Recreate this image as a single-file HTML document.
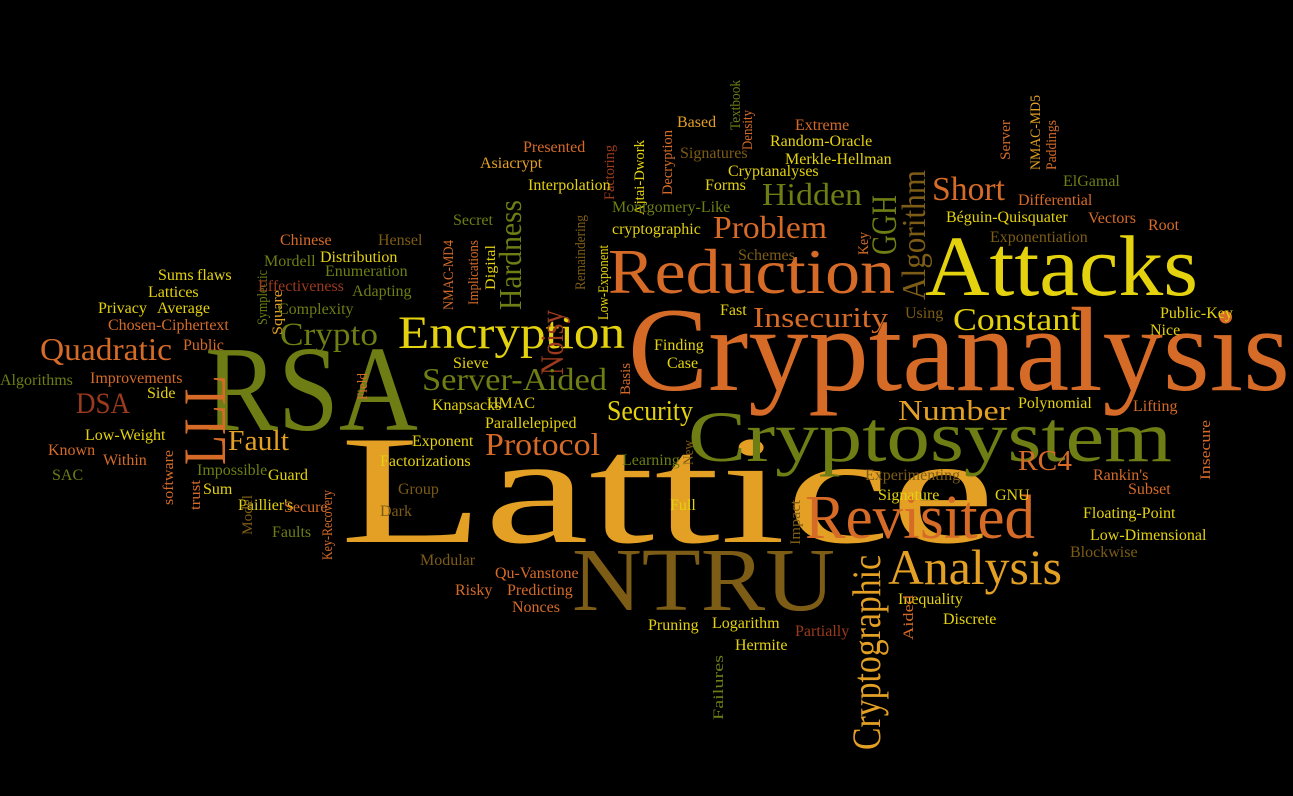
<!DOCTYPE html>
<html><head><meta charset="utf-8"><style>
html,body{margin:0;padding:0;background:#000;width:1293px;height:796px;overflow:hidden}
svg text{font-family:"Liberation Serif",serif}
</style></head><body>
<svg id="cloud" width="1293" height="796" viewBox="0 0 1293 796" xmlns="http://www.w3.org/2000/svg">
<rect width="1293" height="796" fill="#000"/>
</svg>
<script>
const O='#d66b28',Y='#e4d20e',G='#6e7d14',B='#7d5c16',R='#9c3a1e',A='#e3a024';
// [text, x, baselineY, fontSize, color, vertical, length]
const words=[
["Lattice",340,542,155,A,0,655],
["Cryptanalysis",628,390,120,O,0,662],
["RSA",205,430,122,G,0,213],
["Cryptosystem",688,461,72,G,0,484],
["Attacks",925,295,86,Y,0,273],
["Reduction",608,293,64,O,0,287],
["NTRU",572,610,90,B,0,263],
["Revisited",805,538,62,O,0,230],
["Encryption",398,348,47,Y,0,227],
["Analysis",888,584,50,A,0,174],
["LLL",225,465,60,O,1,90],
["Cryptographic",880,750,40,A,1,195],
["Hardness",521,310,32,G,1,110],
["Noisy",563,375,33,R,1,65],
["GGH",896,255,36,G,1,60],
["Algorithm",925,300,34,B,1,130],
["Hidden",762,205,32,G,0,100],
["Short",932,200,34,O,0,73],
["Problem",713,238,32,O,0,114],
["Insecurity",753,327,29,O,0,135],
["Constant",953,330,32,Y,0,127],
["Crypto",280,345,33,G,0,98],
["Quadratic",40,360,32,O,0,132],
["DSA",76,413,30,R,0,54],
["Server-Aided",422,390,32,G,0,185],
["Security",607,420,28,Y,0,86],
["Fault",228,450,29,A,0,61],
["Protocol",485,455,32,O,0,115],
["Number",898,420,29,A,0,112],
["RC4",1018,470,29,O,0,54],
["Textbook",740,130,15,G,1,50],
["Density",752,150,15,O,1,40],
["NMAC-MD5",1040,170,15,A,1,75],
["Based",677,127,16,A,0,0],
["Extreme",795,130,16,O,0,0],
["Presented",523,152,16,O,0,0],
["Random-Oracle",770,146,16,Y,0,0],
["Server",1010,160,15,O,1,40],
["Decryption",672,195,15,O,1,65],
["Factoring",614,200,15,R,1,55],
["Ajtai-Dwork",644,215,15,Y,1,75],
["Signatures",680,158,16,B,0,0],
["Merkle-Hellman",785,164,16,Y,0,0],
["Paddings",1056,170,15,O,1,50],
["Asiacrypt",480,168,16,A,0,0],
["Cryptanalyses",728,176,16,Y,0,0],
["ElGamal",1063,186,16,G,0,0],
["Differential",1018,205,16,O,0,0],
["Interpolation",528,190,16,Y,0,0],
["Forms",705,190,16,Y,0,0],
["Montgomery-Like",612,212,16,G,0,0],
["Béguin-Quisquater",946,222,16,Y,0,0],
["Vectors",1088,223,16,O,0,0],
["Root",1148,230,16,O,0,0],
["Secret",453,225,16,G,0,0],
["cryptographic",612,234,16,Y,0,0],
["Remaindering",585,290,15,B,1,75],
["Exponentiation",990,242,16,B,0,0],
["Key",868,255,15,O,1,23],
["Chinese",280,245,16,O,0,0],
["Hensel",378,245,16,B,0,0],
["Schemes",738,260,16,B,0,0],
["Implications",478,305,15,O,1,65],
["NMAC-MD4",453,310,15,O,1,70],
["Digital",495,290,15,Y,1,45],
["Mordell",264,266,16,G,0,0],
["Distribution",320,262,16,Y,0,0],
["Low-Exponent",608,320,15,Y,1,75],
["Sums",158,280,16,Y,0,0],
["flaws",197,280,16,Y,0,0],
["Symplectic",267,325,15,G,1,55],
["Enumeration",325,276,16,G,0,0],
["Lattices",148,297,16,Y,0,0],
["Effectiveness",258,291,16,R,0,0],
["Adapting",352,296,16,G,0,0],
["Privacy",98,313,16,Y,0,0],
["Average",157,313,16,Y,0,0],
["Square",282,335,15,A,1,45],
["Complexity",278,314,16,G,0,0],
["Fast",720,315,16,Y,0,0],
["Using",905,318,16,B,0,0],
["Public-Key",1160,318,16,Y,0,0],
["Chosen-Ciphertext",108,330,16,O,0,0],
["Nice",1150,335,16,Y,0,0],
["Public",183,350,16,O,0,0],
["Finding",654,350,16,Y,0,0],
["Sieve",453,368,16,Y,0,0],
["Case",667,368,16,Y,0,0],
["Algorithms",0,385,16,G,0,0],
["Improvements",90,383,16,O,0,0],
["Field",367,400,15,O,1,27],
["Basis",630,395,15,O,1,32],
["Side",147,398,16,Y,0,0],
["Knapsacks",432,410,16,Y,0,0],
["HMAC",487,408,16,Y,0,0],
["Polynomial",1018,408,16,Y,0,0],
["Lifting",1133,411,16,O,0,0],
["Parallelepiped",485,428,16,Y,0,0],
["Low-Weight",85,440,16,Y,0,0],
["Exponent",412,446,16,Y,0,0],
["Known",48,455,16,O,0,0],
["Within",103,465,16,O,0,0],
["Learning",622,465,16,G,0,0],
["New",693,465,15,B,1,25],
["Insecure",1210,480,15,O,1,60],
["Factorizations",380,466,16,Y,0,0],
["Impossible",197,475,16,G,0,0],
["Guard",268,480,16,Y,0,0],
["Experimenting",865,480,16,B,0,0],
["Rankin's",1093,480,16,O,0,0],
["SAC",52,480,16,G,0,0],
["software",173,505,15,O,1,55],
["trust",200,510,15,O,1,30],
["Sum",203,494,16,Y,0,0],
["Group",398,494,16,B,0,0],
["Subset",1128,494,16,O,0,0],
["Paillier's",238,510,16,Y,0,0],
["Full",670,510,16,Y,0,0],
["Signature",878,500,16,Y,0,0],
["GNU",995,500,16,Y,0,0],
["Model",252,535,15,B,1,40],
["Secure",284,512,16,O,0,0],
["Dark",380,516,16,B,0,0],
["Floating-Point",1083,518,16,Y,0,0],
["Key-Recovery",332,560,15,O,1,70],
["Faults",272,537,16,G,0,0],
["Impact",800,545,15,B,1,45],
["Low-Dimensional",1090,540,16,Y,0,0],
["Modular",420,565,16,B,0,0],
["Qu-Vanstone",495,578,16,O,0,0],
["Blockwise",1070,557,16,B,0,0],
["Risky",455,595,16,O,0,0],
["Predicting",507,595,16,O,0,0],
["Inequality",898,604,16,Y,0,0],
["Nonces",512,612,16,O,0,0],
["Aided",913,640,15,O,1,45],
["Pruning",648,630,16,Y,0,0],
["Logarithm",712,628,16,Y,0,0],
["Discrete",943,624,16,Y,0,0],
["Partially",795,636,16,R,0,0],
["Hermite",735,650,16,Y,0,0],
["Failures",723,720,15,G,1,65]
];
const svg=document.getElementById('cloud');
const NS='http://www.w3.org/2000/svg';
for(const w of words){
  const t=document.createElementNS(NS,'text');
  t.textContent=w[0];
  t.setAttribute('font-size',w[3]);
  t.setAttribute('fill',w[4]);
  if(w[6]>0){t.setAttribute('textLength',w[6]);t.setAttribute('lengthAdjust','spacingAndGlyphs');}
  if(w[5]){
    t.setAttribute('x',0);t.setAttribute('y',0);
    t.setAttribute('transform','translate('+w[1]+','+w[2]+') rotate(-90)');
  }else{
    t.setAttribute('x',w[1]);t.setAttribute('y',w[2]);
  }
  
  
  svg.appendChild(t);
}
</script>
</body></html>
